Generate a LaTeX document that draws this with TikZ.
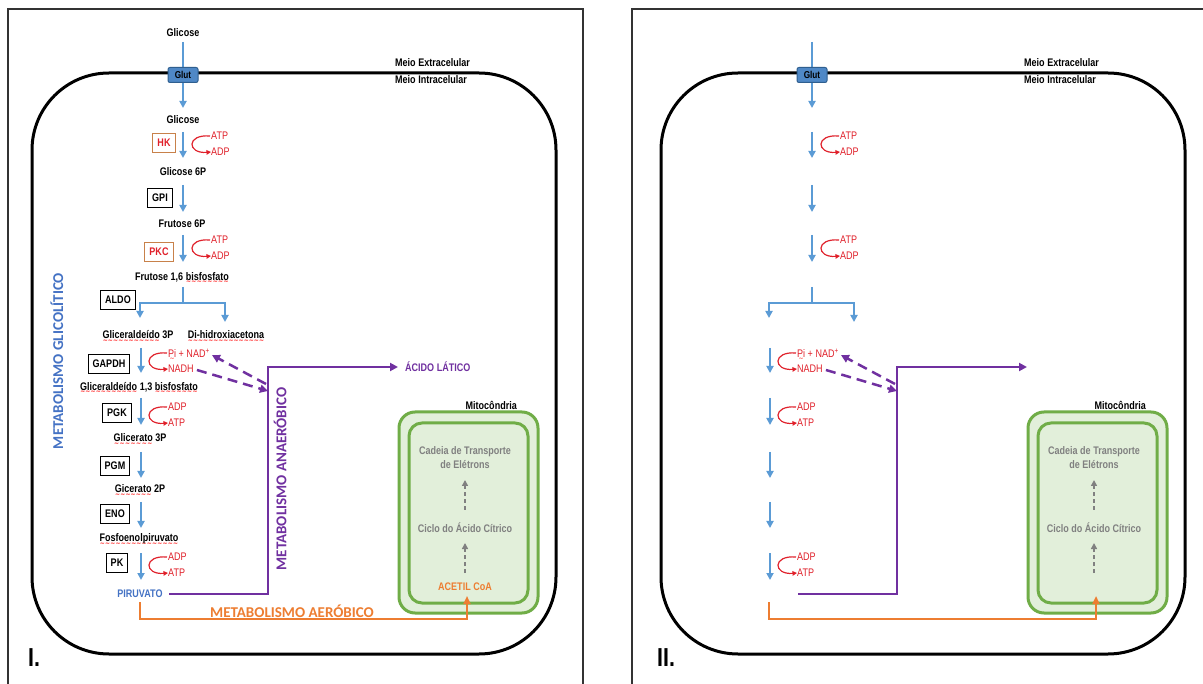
\documentclass[tikz,border=0pt]{standalone}
\usepackage{fontspec}
\setmainfont{Liberation Sans}[FakeStretch=0.82]
\newfontfamily\calib{Carlito}
\newfontfamily\wavefont{DejaVu Sans}
\usetikzlibrary{arrows.meta}
\definecolor{myblue}{HTML}{5B9BD5}
\definecolor{glutfill}{HTML}{4F88C6}
\definecolor{glutdraw}{HTML}{2F5F8F}
\definecolor{myred}{HTML}{E0202A}
\definecolor{hkdraw}{HTML}{C8814A}
\definecolor{mypurple}{HTML}{7030A0}
\definecolor{myorange}{HTML}{ED7D31}
\definecolor{mitodraw}{HTML}{70AD47}
\definecolor{mitofill}{HTML}{E2EFDA}
\definecolor{mygray}{HTML}{808080}
\definecolor{labelblue}{HTML}{4472C4}
\newcommand\spell[1]{\setbox0=\hbox{#1}\leavevmode\rlap{\raisebox{-3.5pt}[0pt][0pt]{\hbox to\wd0{\color{red}\xleaders\hbox{\wavefont\fontsize{6}{6}\selectfont\char"223C}\hfill}}}\box0\relax}
\tikzset{
  frame/.style={draw=black!80, line width=1.2pt},
  cell/.style={draw=black, line width=3pt, rounded corners=77pt},
  lbl/.style={font=\bfseries\fontsize{11}{14}\selectfont, inner sep=0pt},
  cof/.style={font=\fontsize{11}{14}\selectfont, text=myred, inner sep=0pt, anchor=west},
  enz/.style={draw=black, line width=1pt, font=\bfseries\fontsize{11}{14}\selectfont, inner xsep=4.5pt, inner ysep=4pt, minimum height=19pt},
  enzred/.style={enz, draw=hkdraw, text=myred},
  flow/.style={draw=myblue, line width=2pt, -{Triangle[length=7pt,width=7pt]}},
  redarrow/.style={draw=myred, line width=1.2pt, -{Triangle[length=4.5pt,width=4.5pt]}},
  glut/.style={draw=glutdraw, fill=glutfill, line width=1pt, rounded corners=2pt, font=\bfseries\fontsize{10}{12}\selectfont, minimum width=30pt, minimum height=15pt, inner sep=0pt},
  purp/.style={draw=mypurple, line width=2pt, -{Triangle[length=8pt,width=8pt]}},
  pdash/.style={draw=mypurple, line width=2.5pt, dash pattern=on 10pt off 6pt, -{Triangle[length=8pt,width=8pt]}},
  orng/.style={draw=myorange, line width=2pt, -{Triangle[length=8pt,width=7pt]}},
  mito/.style={draw=mitodraw, fill=mitofill, line width=3pt},
  gtext/.style={font=\bfseries\fontsize{11}{14}\selectfont, text=mygray, inner sep=0pt, align=center},
  gdash/.style={draw=mygray, line width=1.5pt, dash pattern=on 4pt off 3pt, -{Triangle[length=6pt,width=6pt]}},
  met/.style={font=\calib\bfseries\fontsize{15}{18}\selectfont, inner sep=0pt},
  plabel/.style={font=\bfseries\fontsize{26}{28}\selectfont, inner sep=0pt, anchor=west}
}
\newcommand\cofpair[6]{%
  \node[cof] (#1a) at (#2,#3) {#5};
  \node[cof] (#1b) at (#2,#4) {#6};
  \draw[redarrow] ([xshift=-1pt]#1a.west) .. controls +(-24,-2) and +(-24,2) .. (#1b.west);
}
\newcommand\common[1]{%
  \draw[cell] (32,73) rectangle (556,654);
  % mitochondria
  \draw[mito, rounded corners=16pt] (399,412) rectangle (538,613);
  \draw[mito, rounded corners=13pt] (409,423) rectangle (528,603);
  \node[lbl, anchor=east] (mitot) at (517,405) {Mitocôndria};
  \node[gtext] (cte) at (465,458) {Cadeia de Transporte\\de Elétrons};
  \node[gtext] (cac) at (465,528) {Ciclo do Ácido Cítrico};
  \coordinate (gd1a) at (465,510); \coordinate (gd1b) at (465,480);
  \coordinate (gd2a) at (465,573); \coordinate (gd2b) at (465,543);
  \draw[gdash] (gd1a) -- (gd1b);
  \draw[gdash] (gd2a) -- (gd2b);
  % glucose entry
  \coordinate (g0) at (183,42); \coordinate (g1) at (183,108);
  \draw[flow] (g0) -- (g1);
  \node[glut] (glut) at (183,75) {Glut};
  \node[lbl, anchor=west] (ext) at (395,63) {Meio Extracelular};
  \node[lbl, anchor=west] (int) at (395,80) {Meio Intracelular};
  % pathway arrows
  \foreach \n/\x/\ya/\yb in {s1/183/132/158, s2/183/185/212, s3/183/235/262, s5/141/348/373, s6/141/398/425, s7/141/452/478, s8/141/502/528, s9/141/553/580}{
    \coordinate (\n a) at (\x,\ya); \coordinate (\n b) at (\x,\yb);
    \draw[flow] (\n a) -- (\n b);
  }
  \coordinate (br0) at (183,287); \coordinate (br1) at (183,303);
  \coordinate (brl) at (140,318); \coordinate (brr) at (225,322);
  \draw[draw=myblue, line width=2pt] (br0) -- (br1);
  \draw[flow] (br1) -| (brl);
  \draw[flow] (br1) -| (brr);
  % cofactors
  \cofpair{c1}{211}{136}{152}{ATP}{ADP}
  \cofpair{c2}{211}{240}{256}{ATP}{ADP}
  \cofpair{c3}{168}{353}{369}{\spell{Pi} + NAD\textsuperscript{+}}{NADH}
  \cofpair{c4}{168}{407}{423}{ADP}{ATP}
  \cofpair{c5}{168}{557}{573}{ADP}{ATP}
  % anaerobic
  \coordinate (pyr) at (169,594); \coordinate (ana) at (268,367); \coordinate (lat) at (398,367);
  \draw[purp] (pyr) -| (ana) -- (lat);
  \coordinate (dj1) at (268,391); \coordinate (dj2) at (266,384);
  \draw[pdash] ([xshift=3pt,yshift=-1pt]c3b.east) -- (dj1);
  \draw[pdash] (dj2) -- ([xshift=2pt,yshift=-2pt]c3a.east);
  % aerobic
  \coordinate (o0) at (140,602); \coordinate (oc) at (467,619); \coordinate (o1) at (467,596);
  \draw[orng] (o0) |- (oc) -- (o1);
  \node[plabel] (pl) at (28,658) {#1};
}
\begin{document}
\begin{tikzpicture}[x=1pt,y=-1pt]
\useasboundingbox (0,0) rectangle (1203,684);
\clip (0,0) rectangle (1203,684);
\fill[white] (0,0) rectangle (1203,684);
\draw[frame] (8,9) rectangle (583,700);
\draw[frame] (632,9) rectangle (1212,700);
\begin{scope}[name prefix=L-]
  \common{I.}
  \node[lbl] (glc0) at (183,33) {Glicose};
  \node[lbl] (glc) at (183,120) {Glicose};
  \node[lbl] (g6p) at (183,172) {Glicose 6P};
  \node[lbl] (f6p) at (182,224) {Frutose 6P};
  \node[lbl] (f16) at (182,277) {Frutose 1,6 \spell{bisfosfato}};
  \node[lbl] (ga3p) at (138,335) {\spell{Gliceraldeído} 3P};
  \node[lbl] (dhap) at (226,335) {\spell{Di-hidroxiacetona}};
  \node[lbl] (g13) at (139,387) {\spell{Gliceraldeído} 1,3 \spell{bisfosfato}};
  \node[lbl] (g3p) at (140,438) {\spell{Glicerato} 3P};
  \node[lbl] (g2p) at (140,489) {\spell{Gicerato} 2P};
  \node[lbl] (pep) at (139,539) {\spell{Fosfoenolpiruvato}};
  \node[lbl, text=labelblue] (pyrn) at (140,594) {PIRUVATO};
  \node[enzred] (hk) at (164,143) {HK};
  \node[enz] (gpi) at (160,198) {GPI};
  \node[enzred] (pkc) at (159,252) {PKC};
  \node[enz] (aldo) at (118,300) {ALDO};
  \node[enz] (gapdh) at (109,364) {GAPDH};
  \node[enz] (pgk) at (117,413) {PGK};
  \node[enz] (pgm) at (115,466) {PGM};
  \node[enz] (eno) at (115,514) {ENO};
  \node[enz] (pk) at (117,563) {PK};
  \node[met, rotate=90, text=labelblue] (mglic) at (57,361) {METABOLISMO GLICOLÍTICO};
  \node[met, rotate=90, text=mypurple] (manae) at (280,479) {METABOLISMO ANAERÓBICO};
  \node[met, text=myorange] (maer) at (292,611) {METABOLISMO AERÓBICO};
  \node[lbl, text=mypurple, anchor=west] (acl) at (405,367) {ÁCIDO LÁTICO};
  \node[lbl, text=myorange] (acoa) at (465,587) {ACETIL CoA};
\end{scope}
\begin{scope}[xshift=629pt, name prefix=R-]
  \common{II.}
\end{scope}
\end{tikzpicture}
\end{document}
